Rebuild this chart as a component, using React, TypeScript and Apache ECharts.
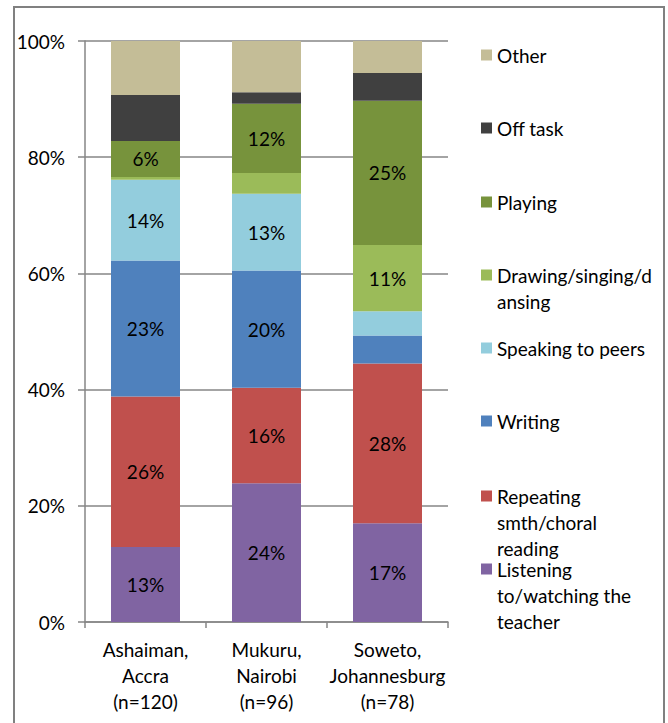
import React, { useEffect, useRef } from "react";
import * as echarts from "echarts";

const categories = ["Ashaiman,\nAccra\n(n=120)", "Mukuru,\nNairobi\n(n=96)", "Soweto,\nJohannesburg\n(n=78)"];
const listening = [12.9, 23.9, 17.0];
const repeating = [25.9, 16.4, 27.5];
const writing = [23.4, 20.2, 4.8];
const speaking = [13.9, 13.2, 4.2];
const drawing = [0.5, 3.6, 11.4];
const playing = [6.2, 11.9, 24.8];
const offTask = [7.9, 2.0, 4.8];
const other = [9.3, 8.8, 5.5];

const seriesNames = [
  "Listening to/watching the teacher",
  "Repeating smth/choral reading",
  "Writing",
  "Speaking to peers",
  "Drawing/singing/dansing",
  "Playing",
  "Off task",
  "Other",
];
const legendLabels = [
  "Listening\nto/watching the\nteacher",
  "Repeating\nsmth/choral\nreading",
  "Writing",
  "Speaking to peers",
  "Drawing/singing/d\nansing",
  "Playing",
  "Off task",
  "Other",
];
const seriesValues = [listening, repeating, writing, speaking, drawing, playing, offTask, other];
const colors = ["#8064A2", "#C0504D", "#4F81BD", "#93CDDD", "#9BBB59", "#77933C", "#404040", "#C4BD97"];
const labelled = [true, true, true, true, true, true, false, false];
const yTicks = [0, 20, 40, 60, 80, 100];

const FONT = "Lato";
const FS = 19;
const LH = 26;
const ICON = 11;
const legendCenters = [569, 496, 421, 348, 275, 202, 128, 55];

export default function App() {
  const ref = useRef<HTMLDivElement>(null);
  useEffect(() => {
    if (!ref.current) return;
    const chart = echarts.init(ref.current, null, { renderer: "svg" });
    const legends = seriesNames.map((name, i) => {
      const n = legendLabels[i].split("\n").length;
      const base: any = {
        data: [name],
        left: 481,
        orient: "vertical",
        padding: 0,
        itemWidth: ICON,
        selectedMode: false,
        formatter: () => legendLabels[i],
        textStyle: {
          fontFamily: FONT,
          fontSize: FS,
          lineHeight: LH,
          color: "#000",
        },
      };
      if (n === 1) {
        base.icon = "rect";
        base.itemHeight = ICON;
        base.top = legendCenters[i] - LH / 2;
      } else {
        const h = n * LH;
        const y0 = LH / 2 - ICON / 2;
        base.icon = `path://M0,0L0.01,0L0,0Z M0,${y0}H${ICON}V${y0 + ICON}H0Z M0,${h}L0.01,${h}L0,${h}Z`;
        base.itemHeight = h;
        base.top = legendCenters[i] - LH / 2;
      }
      return base;
    });
    chart.setOption({
      animation: false,
      textStyle: { fontFamily: FONT },
      graphic: [
        {
          type: "rect",
          shape: { x: 14, y: 7, width: 650, height: 800 },
          style: { fill: "none", stroke: "#808080", lineWidth: 2 },
          silent: true,
        },
      ],
      grid: { left: 85, right: 220, top: 41, bottom: 101 },
      legend: legends,
      xAxis: {
        type: "category",
        data: categories,
        axisLine: { lineStyle: { color: "#868686", width: 1.5 } },
        axisTick: { show: true, length: 6, lineStyle: { color: "#868686", width: 1.5 } },
        axisLabel: {
          fontFamily: FONT,
          fontSize: FS,
          lineHeight: LH,
          color: "#000",
          margin: 14,
          interval: 0,
        },
      },
      yAxis: {
        type: "value",
        min: yTicks[0],
        max: yTicks[yTicks.length - 1],
        interval: 20,
        axisLine: { show: true, lineStyle: { color: "#868686", width: 1.5 } },
        axisTick: { show: true, length: 7, lineStyle: { color: "#868686", width: 1.5 } },
        splitLine: { lineStyle: { color: "#868686", width: 1.5 } },
        axisLabel: {
          fontFamily: FONT,
          fontSize: FS,
          color: "#000",
          margin: 20,
          formatter: "{value}%",
        },
      },
      series: seriesNames.map((name, i) => ({
        name,
        type: "bar",
        stack: "total",
        barWidth: 69,
        data: seriesValues[i],
        itemStyle: { color: colors[i] },
        label: {
          show: labelled[i],
          position: "inside",
          fontFamily: FONT,
          fontSize: FS,
          color: "#000",
          formatter: (p: any) => (p.value >= 6 ? Math.round(p.value) + "%" : ""),
        },
      })),
    });
    return () => chart.dispose();
  }, []);
  return <div ref={ref} style={{ position: "absolute", left: 0, top: 0, width: 668, height: 723 }} />;
}
